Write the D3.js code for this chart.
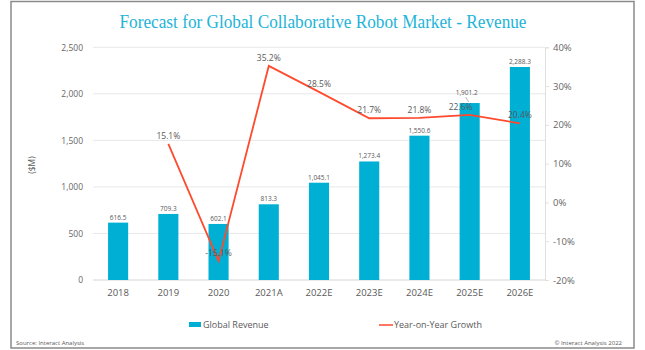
<!DOCTYPE html>
<html>
<head>
<meta charset="utf-8">
<script src="https://cdn.jsdelivr.net/npm/d3@7"></script>
<style>
  body { margin: 0; background: #fff; }
  text { font-family: "Open Sans", sans-serif; fill: #595959; }
</style>
</head>
<body>
<svg id="chart" width="645" height="350"></svg>
<script>
// chart data
const years = ["2018", "2019", "2020", "2021A", "2022E", "2023E", "2024E", "2025E", "2026E"];
const revenue = [616.5, 709.3, 602.1, 813.3, 1045.1, 1273.4, 1550.6, 1901.2, 2288.3];
const growth = [null, 15.1, -15.1, 35.2, 28.5, 21.7, 21.8, 22.6, 20.4];
const revenueTicks = [0, 500, 1000, 1500, 2000, 2500];
const growthTicks = [-20, -10, 0, 10, 20, 30, 40];

const barColor = "#00afd4";
const lineColor = "#ff4a2e";

var svg = d3.select("#chart");

// outer frame
svg.append("rect")
  .attr("x", 11).attr("y", 1.5)
  .attr("width", 623).attr("height", 346.5)
  .attr("fill", "none")
  .attr("stroke", "#8a8a8a")
  .attr("stroke-width", 1.5);

// title
svg.append("text")
  .attr("x", 323).attr("y", 28)
  .attr("text-anchor", "middle")
  .attr("textLength", 407)
  .attr("lengthAdjust", "spacingAndGlyphs")
  .style("font-family", "'Liberation Serif', 'DejaVu Serif', serif")
  .style("font-size", "19px")
  .style("fill", "#22b4d8")
  .text("Forecast for Global Collaborative Robot Market - Revenue");

// plot area bounds
var plotLeft = 93, plotRight = 545, plotTop = 47.3, plotBottom = 280;

var x = d3.scaleBand()
  .domain(years)
  .range([plotLeft, plotRight])
  .paddingInner(0.6)
  .paddingOuter(0.3);

var y = d3.scaleLinear().domain([0, 2500]).range([plotBottom, plotTop]);
var y2 = d3.scaleLinear().domain([-20, 40]).range([plotBottom, plotTop]);

// gridlines
svg.append("g")
  .selectAll("line")
  .data(revenueTicks)
  .enter()
  .append("line")
  .attr("x1", plotLeft).attr("x2", plotRight)
  .attr("y1", d => y(d)).attr("y2", d => y(d))
  .attr("stroke", d => d === 0 ? "#d4d4d4" : "#e8e8e8")
  .attr("stroke-width", 1);

// left axis labels
var yAxis = svg.append("g")
  .attr("transform", `translate(${plotLeft - 7},0)`)
  .call(d3.axisLeft(y).tickValues(revenueTicks).tickFormat(d3.format(",")).tickSize(0));
yAxis.select(".domain").remove();
yAxis.selectAll("text").style("font-size", "8.5px").style("fill", "#666");

// right axis
var y2Axis = svg.append("g")
  .attr("transform", `translate(${plotRight},0)`)
  .call(d3.axisRight(y2).tickValues(growthTicks).tickFormat(d => d + "%").tickSize(4).tickPadding(4));
y2Axis.select(".domain").attr("stroke", "#e0e0e0");
y2Axis.selectAll(".tick line").attr("stroke", "#e0e0e0");
y2Axis.selectAll("text").style("font-size", "9.5px").style("fill", "#666");

// x axis labels
var xAxis = svg.append("g")
  .attr("transform", `translate(0,${plotBottom + 6})`)
  .call(d3.axisBottom(x).tickSize(0));
xAxis.select(".domain").remove();
xAxis.selectAll("text").style("font-size", "9.5px").style("fill", "#595959");

// y axis title
svg.append("text")
  .attr("transform", "translate(35,165) rotate(-90)")
  .attr("text-anchor", "middle")
  .style("font-size", "8.5px")
  .text("($M)");

// bars
svg.append("g")
  .selectAll("rect")
  .data(revenue)
  .enter()
  .append("rect")
  .attr("x", (d, i) => x(years[i]))
  .attr("y", d => y(d))
  .attr("width", x.bandwidth())
  .attr("height", d => plotBottom - y(d))
  .attr("fill", barColor);

// bar labels
svg.append("g")
  .selectAll("text")
  .data(revenue)
  .enter()
  .append("text")
  .attr("x", (d, i) => x(years[i]) + x.bandwidth() / 2 - (i === 7 ? 3 : 0))
  .attr("y", (d, i) => y(d) - (i === 7 ? 8 : 3))
  .attr("text-anchor", "middle")
  .style("font-size", "6.5px")
  .text(d => d3.format(",.1f")(d));

// small leader for the moved 2025E bar label
var cx25 = x("2025E") + x.bandwidth() / 2;
svg.append("line")
  .attr("x1", cx25 - 4).attr("y1", y(revenue[7]) - 6)
  .attr("x2", cx25 - 1).attr("y2", y(revenue[7]) - 1)
  .attr("stroke", "#888")
  .attr("stroke-width", 0.6);

// growth line
var pts = growth.map((g, i) => ({ year: years[i], value: g })).filter(d => d.value !== null);

var line = d3.line()
  .x(d => x(d.year) + x.bandwidth() / 2)
  .y(d => y2(d.value));

svg.append("path")
  .datum(pts)
  .attr("d", line)
  .attr("fill", "none")
  .attr("stroke", lineColor)
  .attr("stroke-width", 1.8);

// growth labels
svg.append("g")
  .selectAll("text")
  .data(pts)
  .enter()
  .append("text")
  .attr("x", d => x(d.year) + x.bandwidth() / 2 - (d.year === "2025E" ? 9 : 0))
  .attr("y", d => y2(d.value) - 5)
  .attr("text-anchor", "middle")
  .style("font-size", "8.5px")
  .text(d => d.value.toFixed(1) + "%");

// legend
svg.append("rect")
  .attr("x", 189).attr("y", 322)
  .attr("width", 12).attr("height", 5)
  .attr("fill", barColor);
svg.append("text")
  .attr("x", 203).attr("y", 328)
  .style("font-size", "9px")
  .text("Global Revenue");

svg.append("line")
  .attr("x1", 379).attr("x2", 393)
  .attr("y1", 325).attr("y2", 325)
  .attr("stroke", lineColor)
  .attr("stroke-width", 1.5);
svg.append("text")
  .attr("x", 394).attr("y", 328)
  .style("font-size", "9px")
  .text("Year-on-Year Growth");

// footer
svg.append("text")
  .attr("x", 16).attr("y", 345)
  .style("font-size", "6px")
  .text("Source: Interact Analysis");
svg.append("text")
  .attr("x", 622).attr("y", 345)
  .attr("text-anchor", "end")
  .style("font-size", "6px")
  .text("© Interact Analysis 2022");
</script>
</body>
</html>
